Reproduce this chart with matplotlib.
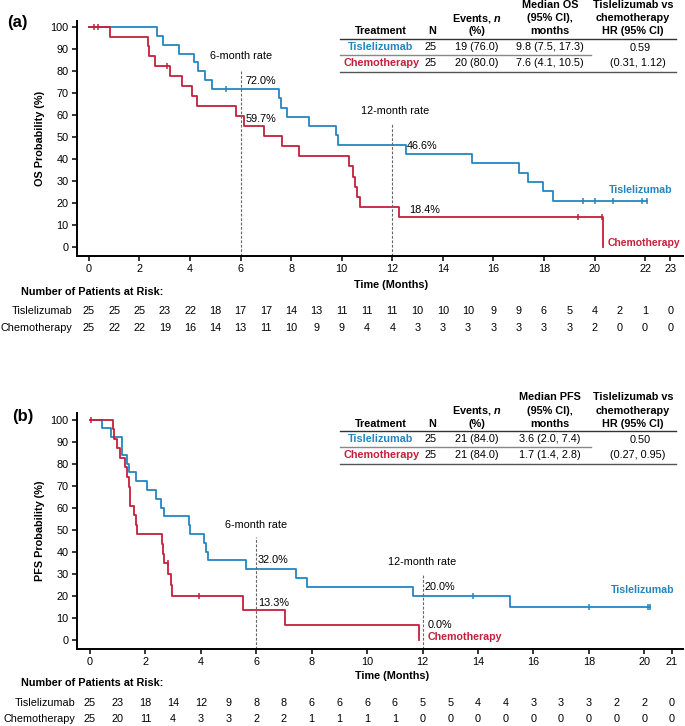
import matplotlib
matplotlib.use("Agg")
import matplotlib.pyplot as plt
import matplotlib.transforms as mtrans
from matplotlib.lines import Line2D
import numpy as np

plt.rcParams['font.family'] = ['Liberation Sans', 'DejaVu Sans']
plt.rcParams['mathtext.fontset'] = 'custom'
plt.rcParams['mathtext.it'] = 'Liberation Sans:italic:bold'

BLUE = "#2386c1"
RED = "#c4203b"

# ---- OS (panel a) ----
os_tis_t = [2.70, 2.93, 3.57, 4.15, 4.32, 4.61, 4.86, 7.53, 7.60, 7.82, 8.72, 9.78, 9.86,
            12.54, 15.15, 17.01, 17.36, 17.98, 18.35]
os_tis_s = [96, 92, 88, 84, 80, 76, 72, 67.8, 63.5, 59.3, 55.1, 50.8, 46.6,
            42.4, 38.1, 33.9, 29.7, 25.4, 21.2]
os_tis_cens = [5.44, 19.53, 20.03, 20.74, 21.87, 22.07]
os_tis_end = 22.07

os_chemo_t = [0.82, 2.34, 2.38, 2.60, 3.22, 3.67, 4.07, 4.28, 5.81, 6.13, 6.94, 7.64, 8.33,
              10.30, 10.46, 10.52, 10.61, 10.72, 12.26, 20.32]
os_chemo_s = [95.7, 91.3, 87.0, 82.6, 78.0, 73.4, 68.8, 64.2, 59.7, 55.1, 50.5, 45.9, 41.3,
              36.7, 32.1, 27.5, 23.0, 18.4, 13.8, 0]
os_chemo_cens = [0.22, 0.36, 3.09, 19.36, 20.28]
os_chemo_end = 20.32

os_risk_tis = [25, 25, 25, 23, 22, 18, 17, 17, 14, 13, 11, 11, 11, 10, 10, 10, 9, 9, 6, 5, 4, 2, 1, 0]
os_risk_chemo = [25, 22, 22, 19, 16, 14, 13, 11, 10, 9, 9, 4, 4, 3, 3, 3, 3, 3, 3, 3, 2, 0, 0, 0]

# ---- PFS (panel b) ----
pfs_tis_t = [0.45, 0.75, 1.15, 1.17, 1.35, 1.42, 1.65, 2.04, 2.37, 2.56, 2.68, 3.56, 3.62,
             4.13, 4.18, 4.24, 5.63, 7.42, 7.83, 11.65, 15.14]
pfs_tis_s = [96, 92, 88, 84, 80, 76, 72, 68, 64, 60, 56, 52, 48,
             44, 40, 36, 32, 28, 24, 20, 15]
pfs_tis_cens = [13.82, 18.02, 20.15, 20.22]
pfs_tis_end = 20.22

pfs_chemo_t = [0.82, 0.87, 0.99, 1.08, 1.26, 1.33, 1.42, 1.43, 1.44, 1.59, 1.67, 1.68,
               2.59, 2.64, 2.68, 2.83, 2.92, 2.97, 5.51, 7.03, 11.88]
pfs_chemo_s = [95.7, 91.3, 87.0, 82.6, 78.3, 73.9, 69.6, 65.2, 60.9, 56.5, 52.2, 47.8,
               43.5, 39.1, 34.8, 29.8, 24.8, 19.9, 13.3, 6.6, 0]
pfs_chemo_cens = [0.02, 2.80, 3.94]
pfs_chemo_end = 11.88

pfs_risk_tis = [25, 23, 18, 14, 12, 9, 8, 8, 6, 6, 6, 6, 5, 5, 4, 4, 3, 3, 3, 2, 2, 0]
pfs_risk_chemo = [25, 20, 11, 4, 3, 3, 2, 2, 1, 1, 1, 1, 0, 0, 0, 0, 0, 0, 0, 0, 0, 0]

W, H = 685, 726
fig = plt.figure(figsize=(W / 100, H / 100), dpi=100)


def fx(px):
    return px / W


def fy(py):
    return 1 - py / H


def surv_at(times, surv, t):
    i = np.searchsorted(times, t, side="right")
    return 100 if i == 0 else surv[i - 1]


def draw_curve(ax, times, surv, cens, t_end, color):
    x = [0] + times + [t_end]
    y = [100] + surv + [surv[-1]]
    ax.step(x, y, where="post", color=color, lw=1.3)
    cy = [surv_at(times, surv, c) for c in cens]
    ax.plot(cens, cy, ls="none", marker="|", ms=5, mew=1.1, color=color)


def setup_axes(box, xmax, xticks, ylabel):
    ax = fig.add_axes(box)
    ax.set_xlim(-0.47, xmax)
    ax.set_ylim(-4, 103)
    ax.set_yticks(range(0, 101, 10))
    ax.set_xticks(xticks)
    ax.spines["top"].set_visible(False)
    ax.spines["right"].set_visible(False)
    for s in ("left", "bottom"):
        ax.spines[s].set_linewidth(1.4)
    ax.tick_params(direction="out", length=3.5, width=1.1, labelsize=7.8, pad=2.5)
    ax.set_ylabel(ylabel, fontsize=7.8, fontweight="bold", labelpad=4)
    return ax


def hline(py, x0, x1, color):
    fig.add_artist(Line2D([fx(x0), fx(x1)], [fy(py), fy(py)], color=color, lw=1.0))


def results_table(ytop, med_label, rows, hr):
    hy = [ytop, ytop + 13.3, ytop + 26.3]
    kw = dict(fontsize=7.8, fontweight="bold", ha="center", va="center")
    fig.text(fx(381), fy(hy[2]), "Treatment", **kw)
    fig.text(fx(432), fy(hy[2]), "N", **kw)
    fig.text(fx(477), fy(hy[1]), r"Events, $\it{n}$", **kw)
    fig.text(fx(477), fy(hy[2]), "(%)", **kw)
    fig.text(fx(550), fy(hy[0]), med_label, **kw)
    fig.text(fx(550), fy(hy[1]), "(95% CI),", **kw)
    fig.text(fx(550), fy(hy[2]), "months", **kw)
    fig.text(fx(633), fy(hy[0]), "Tislelizumab vs", **kw)
    fig.text(fx(633), fy(hy[1]), "chemotherapy", **kw)
    fig.text(fx(633), fy(hy[2]), "HR (95% CI)", **kw)
    l1 = ytop + 33.5
    hline(l1, 340, 676, "#333333")
    r1, r2 = l1 + 8.5, l1 + 24
    hline(l1 + 16.5, 340, 591, "#888888")
    hline(l1 + 33.5, 340, 676, "#555555")
    for (name, color, n, ev, med), ry in zip(rows, (r1, r2)):
        fig.text(fx(381), fy(ry), name, color=color, fontsize=7.8, fontweight="bold",
                 ha="center", va="center")
        fig.text(fx(431), fy(ry), n, fontsize=7.8, ha="center", va="center")
        fig.text(fx(477), fy(ry), ev, fontsize=7.8, ha="center", va="center")
        fig.text(fx(550), fy(ry), med, fontsize=7.8, ha="center", va="center")
    fig.text(fx(640), fy(r1 + 1), hr[0], fontsize=7.8, ha="center", va="center")
    fig.text(fx(638), fy(r2), hr[1], fontsize=7.8, ha="center", va="center")


def risk_table(ax, y_title, y_rows, name_x, risk_a, risk_b):
    fig.text(fx(21), fy(y_title), "Number of Patients at Risk:", fontsize=7.8,
             fontweight="bold", ha="left", va="center")
    tr = mtrans.blended_transform_factory(ax.transData, fig.transFigure)
    for name, vals, py in (("Tislelizumab", risk_a, y_rows[0]), ("Chemotherapy", risk_b, y_rows[1])):
        fig.text(fx(name_x), fy(py), name, fontsize=7.8, ha="right", va="center")
        for m, v in enumerate(vals):
            ax.text(m, fy(py), str(v), transform=tr, fontsize=7.8, ha="center",
                    va="center", clip_on=False)


# ---------------- Panel (a) ----------------
ax1 = setup_axes([fx(77), fy(256), fx(683 - 77), (256 - 20.7) / H], 23.5,
                 list(range(0, 23, 2)) + [23], "OS Probability (%)")
draw_curve(ax1, os_tis_t, os_tis_s, os_tis_cens, os_tis_end, BLUE)
draw_curve(ax1, os_chemo_t, os_chemo_s, os_chemo_cens, os_chemo_end, RED)
ax1.plot([6, 6], [-4, 80], color="#666666", lw=0.8, ls=(0, (2.5, 1.5)))
ax1.plot([12, 12], [-4, 56.6], color="#666666", lw=0.8, ls=(0, (2.5, 1.5)))
ax1.text(6.01, 87.1, "6-month rate", fontsize=7.8, ha="center", va="center")
ax1.text(6.21, 75.7, "72.0%", fontsize=7.8, ha="left", va="center")
ax1.text(6.20, 58.4, "59.7%", fontsize=7.8, ha="left", va="center")
ax1.text(12.13, 62.1, "12-month rate", fontsize=7.8, ha="center", va="center")
ax1.text(12.58, 46.1, "46.6%", fontsize=7.8, ha="left", va="center")
ax1.text(12.66, 17.0, "18.4%", fontsize=7.8, ha="left", va="center")
ax1.text(20.55, 25.8, "Tislelizumab", color=BLUE, fontsize=7.7, fontweight="bold",
         ha="left", va="center")
ax1.text(20.50, 1.8, "Chemotherapy", color=RED, fontsize=7.5, fontweight="bold",
         ha="left", va="center", clip_on=False)
fig.text(fx(391), fy(285), "Time (Months)", fontsize=7.8, fontweight="bold",
         ha="center", va="center")
fig.text(fx(7), fy(23), "(a)", fontsize=12, fontweight="bold", ha="left", va="center")
results_table(5, "Median OS",
              [("Tislelizumab", BLUE, "25", "19 (76.0)", "9.8 (7.5, 17.3)"),
               ("Chemotherapy", RED, "25", "20 (80.0)", "7.6 (4.1, 10.5)")],
              ("0.59", "(0.31, 1.12)"))
risk_table(ax1, 292.3, (311, 327.7), 72, os_risk_tis, os_risk_chemo)

# ---------------- Panel (b) ----------------
ax2 = setup_axes([fx(77), fy(648.5), fx(683 - 77), (648.5 - 413) / H], 21.4,
                 list(range(0, 21, 2)) + [21], "PFS Probability (%)")
draw_curve(ax2, pfs_tis_t, pfs_tis_s, pfs_tis_cens, pfs_tis_end, BLUE)
draw_curve(ax2, pfs_chemo_t, pfs_chemo_s, pfs_chemo_cens, pfs_chemo_end, RED)
ax2.plot([6, 6], [-4, 46.5], color="#666666", lw=0.8, ls=(0, (2.5, 1.5)))
ax2.plot([12, 12], [-4, 29.5], color="#666666", lw=0.8, ls=(0, (2.5, 1.5)))
ax2.text(6.0, 52.3, "6-month rate", fontsize=7.8, ha="center", va="center")
ax2.text(6.06, 36.4, "32.0%", fontsize=7.8, ha="left", va="center")
ax2.text(6.06, 16.8, "13.3%", fontsize=7.8, ha="left", va="center")
ax2.text(12.0, 35.5, "12-month rate", fontsize=7.8, ha="center", va="center")
ax2.text(12.06, 24.1, "20.0%", fontsize=7.8, ha="left", va="center")
ax2.text(12.2, 6.8, "0.0%", fontsize=7.8, ha="left", va="center")
ax2.text(12.2, 1.4, "Chemotherapy", color=RED, fontsize=7.7, fontweight="bold",
         ha="left", va="center", clip_on=False)
ax2.text(18.78, 22.7, "Tislelizumab", color=BLUE, fontsize=7.7, fontweight="bold",
         ha="left", va="center")
fig.text(fx(392), fy(676), "Time (Months)", fontsize=7.8, fontweight="bold",
         ha="center", va="center")
fig.text(fx(12), fy(416), "(b)", fontsize=12, fontweight="bold", ha="left", va="center")
results_table(397.3, "Median PFS",
              [("Tislelizumab", BLUE, "25", "21 (84.0)", "3.6 (2.0, 7.4)"),
               ("Chemotherapy", RED, "25", "21 (84.0)", "1.7 (1.4, 2.8)")],
              ("0.50", "(0.27, 0.95)"))
risk_table(ax2, 683.3, (703.3, 719), 75, pfs_risk_tis, pfs_risk_chemo)

fig.savefig("out.png", dpi=100)
